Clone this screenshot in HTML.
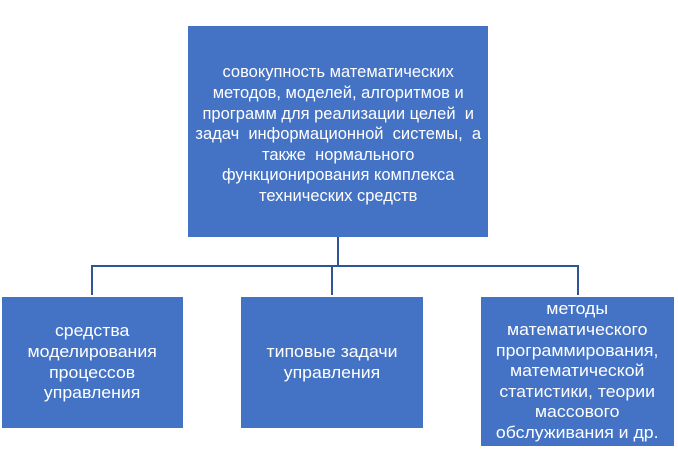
<!DOCTYPE html>
<html><head><meta charset="utf-8"><style>
body{margin:0;width:678px;height:471px;background:#fff;position:relative;overflow:hidden;font-family:"Liberation Sans","DejaVu Sans",sans-serif;}
.b{position:absolute;background:#4472C4;color:#fff;display:flex;align-items:center;justify-content:center;text-align:center;font-size:17px;line-height:20.6px;white-space:nowrap;}
.b>div{transform:scaleX(1.04);}
.l{position:absolute;background:#2F5597;}
</style></head><body>
<div class="b" style="left:188px;top:26px;width:300px;height:211px;padding-top:6px;box-sizing:border-box;"><div style="transform:scaleX(0.97)">совокупность математических<br>методов, моделей, алгоритмов и<br>программ для реализации целей &nbsp;и<br>задач &nbsp;информационной &nbsp;системы, &nbsp;а<br>также &nbsp;нормального<br>функционирования комплекса<br>технических средств</div></div>
<div class="l" style="left:337px;top:237px;width:2px;height:30px"></div>
<div class="l" style="left:91px;top:265px;width:488px;height:2px"></div>
<div class="l" style="left:91px;top:265px;width:2px;height:30px"></div>
<div class="l" style="left:331px;top:265px;width:2px;height:30px"></div>
<div class="l" style="left:577px;top:265px;width:2px;height:30px"></div>
<div class="b" style="left:2px;top:297px;width:181px;height:131px;"><div>средства<br>моделирования<br>процессов<br>управления</div></div>
<div class="b" style="left:241px;top:297px;width:182px;height:131px;"><div>типовые задачи<br>управления</div></div>
<div class="b" style="left:481px;top:297px;width:193px;height:149px;"><div>методы<br>математического<br>программирования,<br>математической<br>статистики, теории<br>массового<br>обслуживания и др.</div></div>
</body></html>
